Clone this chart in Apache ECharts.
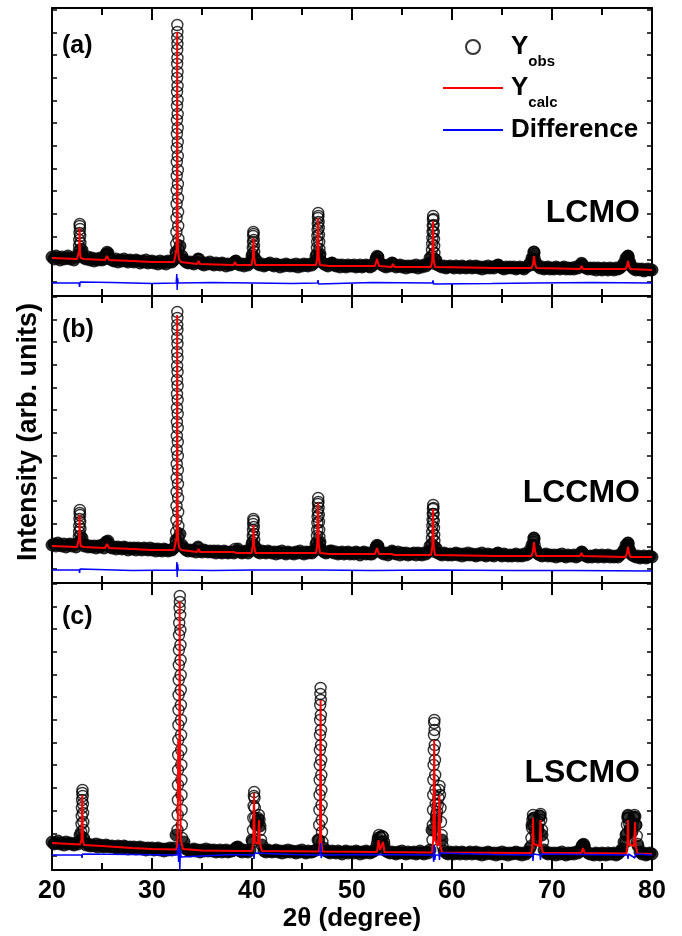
<!DOCTYPE html>
<html><head><meta charset="utf-8">
<script src="https://cdn.jsdelivr.net/npm/echarts@6/dist/echarts.min.js"></script>
<style>html,body{margin:0;padding:0;background:#fff}#c{width:682px;height:936px}</style>
</head><body><div id="c"></div>
<script>
// ---------- DATA ----------
const scanStart = 20, scanStep = 0.2;
const xTickLabels = ['20','30','40','50','60','70','80'];
const panelLabels = ['(a)','(b)','(c)'];
const sampleNames = ['LCMO','LCCMO','LSCMO'];
const yTickValues = [14, 36.7, 59.4, 82.1, 104.8, 127.5, 150.2, 172.9, 195.6, 218.3, 241, 263.7, 286.4];

// observed intensity on the 0.2 deg scan grid (arb. units); null = sample read in the peak lists below
const bgA = [39,37,40,38,36,39,37,38,40,37, 38,36,39,41,null,46,38,37,39,36, 38,35,37,36,38,36,37,42,43,37,
 36,35,37,34,36,35,37,35,34,36, 35,34,36,35,33,35,34,36,33,34, 35,33,34,32,35,33,34,32,35,34,
 34,36,44,null,50,40,36,34,33,34, 33,32,34,37,33,32,31,33,32,34, 32,31,33,32,31,33,32,30,32,31,
 32,33,35,32,31,32,30,32,31,33, 40,null,36,32,31,32,30,31,32,33, 31,30,32,31,29,31,30,32,31,30,
 31,30,32,29,31,30,32,31,30,32, 31,33,40,null,42,34,32,31,30,32, 33,31,30,31,29,31,30,29,31,30,
 30,31,29,30,31,29,30,31,30,29, 30,32,37,39,33,31,30,29,31,30, 33,31,29,30,31,29,30,28,30,29,
 30,29,31,28,30,29,31,30,32,38, null,null,36,31,30,29,30,28,29,30, 29,28,30,29,28,30,29,28,29,30,
 28,29,30,28,29,27,29,28,30,28, 29,28,30,31,29,28,27,29,28,29, 28,29,27,28,29,28,27,29,30,33,
 38,44,33,30,28,29,27,28,29,27, 28,27,29,28,27,28,29,27,28,27, 28,27,29,28,30,32,29,28,27,28,
 27,28,26,28,27,26,28,27,26,28, 27,26,28,27,28,30,33,38,40,33, 29,27,26,27,26,27,25,26,27,26, 26];
const bgB = [38,39,37,40,38,37,39,36,38,39, 37,38,36,40,null,45,37,38,36,37, 36,37,35,37,36,38,35,41,42,36,
 35,36,34,36,35,34,36,35,33,35, 34,35,33,35,34,33,35,34,33,35, 33,34,32,34,33,32,34,33,32,33,
 33,35,43,null,49,38,35,33,32,33, 32,33,31,36,32,31,33,32,31,32, 31,32,30,32,31,30,32,31,30,31,
 31,30,32,34,31,30,31,32,30,32, 39,null,35,31,30,32,31,30,32,31, 30,31,29,31,30,32,30,29,31,30,
 30,29,31,30,32,30,29,31,30,31, 30,32,39,null,41,33,31,30,31,32, 32,30,31,29,30,31,29,30,31,29,
 30,29,31,30,28,30,31,29,30,29, 29,31,36,37,32,30,29,30,28,30, 32,30,29,31,28,30,29,30,28,29,
 29,30,28,30,29,28,30,29,31,37, null,null,35,30,29,28,30,29,28,29, 28,29,30,28,29,27,29,28,30,28,
 29,28,27,29,28,30,28,27,29,28, 28,27,29,30,28,27,29,28,27,28, 27,28,29,27,28,27,29,28,29,33,
 38,45,33,29,28,27,28,29,27,28, 27,28,26,28,27,29,27,26,28,27, 27,28,26,27,29,31,28,27,26,27,
 26,27,28,26,27,28,26,27,28,26, 27,26,27,26,28,30,33,38,40,32, 28,27,26,27,25,26,27,25,26,27, 26];
const bgC = [28,26,27,29,26,27,25,28,26,27, 26,25,27,26,35,null,30,25,26,24, 25,24,26,23,25,24,23,25,24,23,
 24,23,22,24,23,22,24,23,21,23, 22,23,21,22,23,21,22,20,22,21, 22,20,21,22,20,21,19,21,20,22,
 20,22,35,null,null,null,28,21,20,19, 20,21,19,20,18,20,19,21,19,20, 19,20,18,19,20,18,19,20,18,19,
 19,20,22,23,19,18,20,19,18,20, 30,null,45,50,44,25,19,18,20,19, 18,19,20,18,19,17,19,18,20,18,
 19,18,17,19,18,20,18,17,19,18, 18,19,20,30,null,null,22,19,18,17, 19,18,17,19,18,16,18,19,17,18,
 18,17,19,18,16,18,17,19,18,17, 18,19,22,30,27,28,25,19,18,17, 18,17,16,18,17,19,17,16,18,17,
 17,18,16,17,19,17,16,18,17,20, 40,null,50,null,null,30,19,17,16,18, 17,16,18,17,16,18,17,16,17,18,
 16,17,18,16,17,15,17,16,18,17, 16,17,15,17,16,18,16,17,15,17, 16,17,18,16,17,15,17,16,18,22,
 45,52,30,40,54,35,20,17,16,17, 16,17,15,17,16,18,16,15,17,16, 17,16,18,17,19,24,25,19,17,16,
 16,15,17,16,15,17,16,15,17,16, 16,17,15,16,18,21,28,35,54,40, 38,53,45,24,18,16,17,15,16,17, 16];

// extra observed points read across the Bragg peaks [2theta, I]
const obsPeaksA = [[22.66,40],[22.69,45],[22.71,50],[22.73,56],[22.75,63],[22.77,70],[22.78,72],[22.80,67],[22.82,60],[22.84,53],[22.86,47],[22.89,42],
 [25.45,41],[25.5,44],[25.56,42],
 [32.40,42],[32.42,52],[32.44,64],[32.45,78],[32.46,92],[32.47,106],[32.475,120],[32.48,134],[32.485,148],[32.49,162],[32.495,176],[32.50,190],[32.505,204],[32.51,218],[32.515,232],[32.52,246],[32.525,258],[32.53,271],
 [32.535,264],[32.54,252],[32.545,238],[32.55,224],[32.555,210],[32.56,196],[32.565,182],[32.57,168],[32.575,154],[32.58,140],[32.585,126],[32.59,112],[32.60,98],[32.61,84],[32.62,70],[32.64,57],[32.66,46],
 [34.6,36],[34.7,37],[38.25,34],[38.35,35],
 [40.02,36],[40.05,42],[40.08,48],[40.10,54],[40.12,60],[40.14,64],[40.16,62],[40.18,56],[40.20,50],[40.22,44],[40.25,38],
 [46.45,36],[46.48,42],[46.50,48],[46.52,54],[46.54,60],[46.56,66],[46.58,72],[46.60,78],[46.62,83],[46.64,80],[46.66,74],[46.68,68],[46.70,61],[46.72,54],[46.74,47],[46.77,40],[46.80,35],
 [47.9,32],[48.0,33],[52.35,35],[52.42,38],[52.5,40],[52.58,39],[52.65,35],[54.05,33],[54.15,32],
 [57.95,34],[57.98,40],[58.00,46],[58.02,52],[58.04,58],[58.06,64],[58.08,70],[58.10,76],[58.12,80],[58.14,77],[58.16,71],[58.18,64],[58.20,57],[58.22,50],[58.24,43],[58.27,37],[58.30,32],
 [64.55,30],[64.65,31],
 [68.05,31],[68.10,36],[68.14,40],[68.18,44],[68.22,42],[68.26,37],[68.30,32],
 [72.85,31],[72.95,33],[73.05,31],
 [77.45,32],[77.5,36],[77.55,39],[77.6,40],[77.65,38],[77.7,35],[77.78,31]];
const obsPeaksB = [[22.66,40],[22.69,46],[22.71,51],[22.73,57],[22.75,64],[22.77,70],[22.78,73],[22.80,68],[22.82,61],[22.84,54],[22.86,47],[22.89,41],
 [25.45,39],[25.5,41],[25.56,40],
 [32.40,41],[32.42,51],[32.44,63],[32.45,77],[32.46,91],[32.47,105],[32.475,119],[32.48,133],[32.485,147],[32.49,161],[32.495,175],[32.50,189],[32.505,203],[32.51,217],[32.515,231],[32.52,245],[32.525,258],[32.53,271],
 [32.535,265],[32.54,253],[32.545,239],[32.55,225],[32.555,211],[32.56,197],[32.565,183],[32.57,169],[32.575,155],[32.58,141],[32.585,127],[32.59,113],[32.60,99],[32.61,85],[32.62,71],[32.64,57],[32.66,45],
 [34.65,35],[38.3,34],
 [40.02,35],[40.05,41],[40.08,47],[40.10,53],[40.12,59],[40.14,64],[40.16,62],[40.18,56],[40.20,49],[40.22,43],[40.25,37],
 [46.45,35],[46.48,41],[46.50,47],[46.52,53],[46.54,60],[46.56,66],[46.58,72],[46.60,79],[46.62,85],[46.64,81],[46.66,75],[46.68,68],[46.70,61],[46.72,53],[46.74,46],[46.77,39],[46.80,34],
 [47.95,31],[52.35,33],[52.42,36],[52.5,38],[52.58,37],[52.65,33],[54.1,31],
 [57.95,33],[57.98,39],[58.00,45],[58.02,51],[58.04,57],[58.06,63],[58.08,69],[58.10,74],[58.12,78],[58.14,75],[58.16,69],[58.18,62],[58.20,55],[58.22,48],[58.24,42],[58.27,36],[58.30,31],
 [64.6,30],
 [68.05,31],[68.10,36],[68.14,41],[68.18,45],[68.22,43],[68.26,38],[68.30,32],
 [72.85,29],[72.95,31],[73.05,30],
 [77.45,31],[77.5,35],[77.55,38],[77.6,40],[77.65,38],[77.7,34],[77.78,30]];
const obsPeaksC = [[22.88,30],[22.92,38],[22.95,46],[22.97,54],[22.99,62],[23.01,70],[23.03,77],[23.05,80],[23.07,74],[23.09,66],[23.11,57],[23.13,48],[23.15,40],[23.19,32],
 [32.55,40],[32.57,55],[32.59,70],[32.60,85],[32.61,100],[32.62,115],[32.63,130],[32.64,145],[32.65,160],[32.66,175],[32.67,190],[32.68,205],[32.69,220],[32.70,235],[32.72,247],[32.76,262],[32.78,274],[32.79,268],
 [32.82,255],[32.84,240],[32.85,225],[32.86,210],[32.87,195],[32.88,180],[32.89,165],[32.90,150],[32.91,135],[32.92,120],[32.93,105],[32.94,90],[32.95,75],[32.96,60],[32.98,45],[33.01,32],
 [38.4,22],[38.5,23],[38.6,22],
 [40.05,28],[40.1,40],[40.13,52],[40.16,64],[40.19,74],[40.22,78],[40.25,72],[40.28,62],[40.32,52],[40.4,46],[40.5,48],[40.6,52],[40.68,55],[40.75,50],[40.82,40],[40.9,30],
 [46.70,30],[46.72,45],[46.74,60],[46.76,75],[46.77,90],[46.78,105],[46.79,120],[46.80,135],[46.81,150],[46.82,165],[46.84,176],[46.86,182],[46.88,170],[46.89,155],[46.90,140],[46.91,125],[46.92,110],[46.93,95],[46.94,80],[46.96,65],[46.98,50],[47.00,38],[47.04,28],
 [52.5,26],[52.6,32],[52.7,35],[52.8,33],[52.9,32],[53.0,34],[53.1,33],[53.2,28],
 [58.05,30],[58.08,45],[58.10,60],[58.12,75],[58.14,90],[58.16,105],[58.18,120],[58.20,135],[58.22,147],[58.24,150],[58.26,140],[58.28,125],[58.30,110],[58.32,95],[58.34,80],[58.37,66],[58.42,55],[58.50,58],[58.58,65],[58.64,72],[58.70,80],[58.75,84],[58.80,75],[58.85,62],[58.90,48],[58.96,35],[59.05,24],
 [67.9,24],[67.95,32],[68.0,42],[68.05,50],[68.1,55],[68.15,52],[68.22,44],[68.3,38],[68.4,36],[68.5,38],[68.6,42],[68.7,48],[68.78,54],[68.85,56],[68.92,50],[69.0,40],[69.1,28],
 [72.95,22],[73.05,25],[73.15,26],[73.25,23],
 [77.4,28],[77.45,36],[77.5,45],[77.55,52],[77.6,55],[77.65,52],[77.72,46],[77.8,42],[77.9,40],[78.0,42],[78.1,47],[78.18,52],[78.25,55],[78.32,53],[78.4,45],[78.48,34],[78.56,26]];

// calculated (Rietveld) profile [2theta, I]
const calcA = [[20,38],[22.5,37],[22.65,38],[22.72,45],[22.76,68],[22.80,45],[22.87,38],[23.2,37],[25.3,36],[25.5,40],[25.7,36],[28,35],[30,34],
 [32.2,34],[32.35,36],[32.45,46],[32.49,90],[32.52,264],[32.55,90],[32.6,46],[32.7,37],[32.9,34],[34.5,32],[34.65,35],[34.8,32],[38.15,31],[38.3,34],[38.45,31],
 [39.95,31],[40.08,38],[40.15,58],[40.22,38],[40.35,31],[46.4,31],[46.52,38],[46.6,78],[46.68,38],[46.8,31],[47.8,30],[47.95,32],[48.1,30],[52.3,30],[52.5,37],[52.7,30],
 [53.95,29],[54.1,32],[54.25,29],[57.9,29],[58.03,36],[58.1,75],[58.17,36],[58.3,29],[64.45,28],[64.6,30],[64.75,28],[67.95,28],[68.1,32],[68.2,40],[68.3,32],[68.45,28],
 [72.8,27],[72.95,30],[73.1,27],[77.35,27],[77.5,30],[77.6,35],[77.7,30],[77.85,27],[80,26]];
const calcB = [[20,37],[22.5,36],[22.65,37],[22.72,45],[22.76,68],[22.80,45],[22.87,37],[23.2,36],[25.3,35],[25.5,39],[25.7,35],[28,34],[30,33],
 [32.2,33],[32.35,35],[32.45,45],[32.49,90],[32.52,268],[32.55,90],[32.6,45],[32.7,36],[32.9,33],[34.5,31],[34.65,34],[34.8,31],[38.15,31],[38.3,33],[38.45,30],
 [39.95,30],[40.08,37],[40.15,58],[40.22,37],[40.35,30],[46.4,30],[46.52,38],[46.6,80],[46.68,38],[46.8,30],[47.8,29],[47.95,31],[48.1,29],[52.3,29],[52.5,35],[52.7,29],
 [53.95,29],[54.1,31],[54.25,28],[57.9,28],[58.03,36],[58.1,74],[58.17,36],[58.3,28],[64.45,27],[64.6,29],[64.75,27],[67.95,27],[68.1,32],[68.2,41],[68.3,32],[68.45,27],
 [72.8,27],[72.95,30],[73.1,27],[77.35,26],[77.5,30],[77.6,36],[77.7,30],[77.85,26],[80,26]];
const calcC = [[20,27],[22.8,25.5],[22.95,30],[23.02,75],[23.08,30],[23.2,25],[25,24],[28,22],[30,21],[32.4,20.5],[32.52,24],[32.58,45],[32.62,130],[32.66,70],[32.72,80],[32.77,269],[32.82,80],[32.88,30],[33.1,21],
 [35,19.5],[38.35,19],[38.45,21],[38.55,19],[40.0,19],[40.12,28],[40.2,77],[40.28,28],[40.6,26],[40.7,50],[40.8,26],[41.0,19],[46.7,18.5],[46.8,30],[46.86,170],[46.92,30],[47.05,18.5],
 [52.5,18],[52.65,30],[52.8,20],[52.95,20],[53.1,28],[53.25,18],[58.0,17.5],[58.12,30],[58.22,130],[58.3,30],[58.6,24],[58.74,75],[58.84,24],[59.0,17.5],
 [67.95,17],[68.05,26],[68.1,52],[68.16,26],[68.75,24],[68.85,50],[68.93,24],[69.1,17],[72.95,17],[73.1,22],[73.25,17],[77.45,16.5],[77.55,26],[77.6,50],[77.66,26],[78.2,24],[78.3,48],[78.38,24],[78.55,16.5],[80,16]];

// difference curve [2theta, I]
const diffA = [[20,13],[22.7,13],[22.76,9],[22.82,14],[22.9,13],[26,13.5],[30,12.5],[32.42,13],[32.48,22],[32.52,6],[32.56,18],[32.62,13],[36,13.5],[40.1,13],[40.15,11],[40.2,14],[40.25,13],[44,12.5],
 [46.55,13],[46.6,16],[46.66,12],[46.72,13],[52,13.5],[58.05,13],[58.1,15.5],[58.16,12],[58.22,13],[64,12.5],[68.15,13],[68.2,11.5],[68.25,13],[74,13.5],[80,13]];
const diffB = [[20,13],[22.72,13],[22.76,10],[22.8,14],[22.86,13],[28,12.5],[32.45,13],[32.49,21],[32.52,6],[32.56,19],[32.62,13],[36,12.5],[40.12,13],[40.16,11],[40.2,13],[44,13],
 [46.56,13],[46.6,15],[46.65,12],[46.7,13],[52,12.5],[58.06,13],[58.1,14.5],[58.15,12],[58.2,13],[66,12.5],[72,12.5],[80,12]];
const diffC = [[20,15],[22.95,15],[23.0,12],[23.05,16],[23.1,15],[28,15.5],[32.5,15],[32.6,22],[32.66,8],[32.72,26],[32.78,0],[32.84,20],[32.92,13],[33.0,15],[38,15.5],
 [40.15,15],[40.2,11],[40.25,17],[40.3,15],[44,15.5],[46.8,15],[46.86,27],[46.92,12],[47.0,15],[52,15.5],[58.1,15],[58.17,8],[58.22,25],[58.28,10],[58.35,15],
 [58.7,15],[58.75,10],[58.8,17],[58.85,15],[64,15.5],[68.05,15],[68.1,9],[68.15,16],[68.2,15],[68.8,15],[68.85,10],[68.9,16],[68.95,15],[73,15.5],[77.55,15],[77.6,11],[77.65,16],[77.7,15],[78.3,12],[78.35,16],[78.4,15],[80,15]];

// ---------- CHART ----------
const FONT = '"Liberation Sans", Arial, Helvetica, sans-serif';
function scanPoints(values){
  const out = [];
  values.forEach((v,i)=>{ if (v !== null) out.push([+(scanStart+scanStep*i).toFixed(2), v]); });
  return out;
}
const obsScan = [scanPoints(bgA), scanPoints(bgB), scanPoints(bgC)];
const obsPeaks = [obsPeaksA, obsPeaksB, obsPeaksC];
const calc = [calcA, calcB, calcC];
const diff = [diffA, diffB, diffC];

const grids = [{top:8,height:288},{top:296,height:287},{top:583,height:287}];
const yMax = [288, 287, 287];
const chart = echarts.init(document.getElementById('c'), null, {renderer:'canvas'});
const xAxes = [], yAxes = [], series = [];
const blk = {color:'#000', width:2};
grids.forEach((g,k)=>{
  ['bottom','top'].forEach(pos=>{
    xAxes.push({
      gridIndex:k, type:'value', position:pos, min:20, max:80, interval:10,
      axisLine:{show:true, onZero:false, lineStyle:blk},
      axisTick:{show:true, inside:true, length:12, lineStyle:blk},
      minorTick:{show:true, splitNumber:2, length:7, lineStyle:blk},
      splitLine:{show:false},
      axisLabel:{show: (k===2 && pos==='bottom'), color:'#000', fontFamily:FONT, fontWeight:'bold', fontSize:25, margin:9,
        formatter:(v)=>xTickLabels[Math.round((v-20)/10)] || ''},
      name: (k===2 && pos==='bottom') ? '2θ (degree)' : '',
      nameLocation:'middle', nameGap:36,
      nameTextStyle:{color:'#000', fontFamily:FONT, fontWeight:'bold', fontSize:26}
    });
  });
  ['left','right'].forEach(pos=>{
    yAxes.push({
      gridIndex:k, type:'value', position:pos, min:0, max:yMax[k],
      axisLine:{show:true, lineStyle:blk},
      axisTick:{show:true, inside:true, length:5, lineStyle:{color:'#000', width:1.5}, customValues:yTickValues},
      axisLabel:{show:false}, splitLine:{show:false}
    });
  });
  series.push({
    name:'Yobs', type:'scatter', xAxisIndex:k*2, yAxisIndex:k*2, data:obsPeaks[k],
    symbol:'circle', symbolSize:11, z:2, silent:true,
    itemStyle:{color:'rgba(0,0,0,0)', borderColor:'#000', borderWidth:1.4}
  });
  series.push({
    name:'Yobs', type:'scatter', xAxisIndex:k*2, yAxisIndex:k*2, data:obsScan[k],
    symbol:'circle', symbolSize:12, z:2, silent:true,
    itemStyle:{color:'#000', borderColor:'#000', borderWidth:1}
  });
  series.push({
    name:'Ycalc', type:'line', xAxisIndex:k*2, yAxisIndex:k*2, data:calc[k],
    symbol:'none', z:3, silent:true, lineStyle:{color:'#ff0000', width:2}, itemStyle:{color:'#ff0000'}
  });
  series.push({
    name:'Difference', type:'line', xAxisIndex:k*2, yAxisIndex:k*2, data:diff[k],
    symbol:'none', z:4, silent:true, lineStyle:{color:'#0000ff', width:1.5}, itemStyle:{color:'#0000ff'}
  });
});

const graphics = [];
const labelY = [46, 330, 617];
const nameY = [213, 493, 773];
panelLabels.forEach((t,k)=>{
  graphics.push({type:'text', x:62, y:labelY[k], style:{text:t, font:'bold 25px '+FONT, fill:'#000', textAlign:'left', textVerticalAlign:'middle', align:'left', verticalAlign:'middle'}});
  graphics.push({type:'text', x:640, y:nameY[k], style:{text:sampleNames[k], font:'bold 32px '+FONT, fill:'#000', textAlign:'right', textVerticalAlign:'middle', align:'right', verticalAlign:'middle'}});
});
graphics.push({type:'text', x:29, y:432, rotation:Math.PI/2, style:{text:'Intensity (arb. units)', font:'bold 27px '+FONT, fill:'#000', textAlign:'center', textVerticalAlign:'middle', align:'center', verticalAlign:'middle'}});

const lineIcon = 'path://M0,0H60V2H0Z';
const legendText = {color:'#000', fontFamily:FONT, fontWeight:'bold', rich:{
  y:{fontSize:26, fontWeight:'bold', fontFamily:FONT, color:'#000', verticalAlign:'middle', padding:[0,0,0,3]},
  s:{fontSize:15, fontWeight:'bold', fontFamily:FONT, color:'#000', padding:[30,0,0,0]},
  d:{fontSize:26, fontWeight:'bold', fontFamily:FONT, color:'#000', padding:[0,0,0,3]}
}};
const legendFmt = (n)=> n==='Yobs' ? '{y|Y}{s|obs}' : (n==='Ycalc' ? '{y|Y}{s|calc}' : '{d|Difference}');
const legendBase = {orient:'vertical', itemWidth:60, itemHeight:14, selectedMode:false, formatter:legendFmt, textStyle:legendText};

chart.setOption({
  animation:false,
  backgroundColor:'#fff',
  grid: grids.map(g=>({left:52, right:30, top:g.top, height:g.height, containLabel:false})),
  xAxis:xAxes, yAxis:yAxes, series:series,
  legend:[
    Object.assign({}, legendBase, {left:460, top:29, data:[{name:'Yobs'}]}),
    Object.assign({}, legendBase, {left:438, top:70, data:[{name:'Ycalc', icon:lineIcon}]}),
    Object.assign({}, legendBase, {left:438, top:112, data:[{name:'Difference', icon:lineIcon}]})
  ],
  graphic:graphics
});
</script></body></html>
